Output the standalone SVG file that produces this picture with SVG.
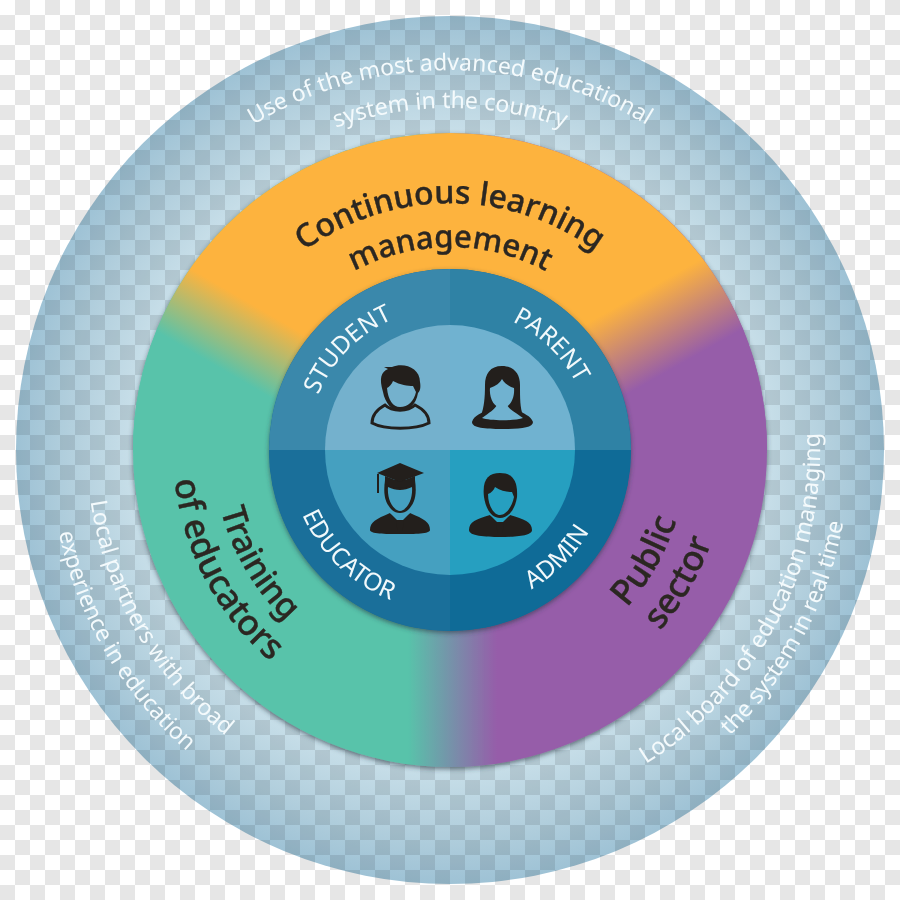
<svg xmlns="http://www.w3.org/2000/svg" xmlns:xlink="http://www.w3.org/1999/xlink" width="900" height="900" viewBox="0 0 900 900">
<defs>
<style>
text{font-family:"Noto Sans","Liberation Sans",sans-serif;text-anchor:middle}
.lt{fill:#f4fafc;font-size:23px}
.tt{fill:#2b2722;font-weight:500;font-size:35px;stroke:#2b2722;stroke-width:.4}
.in{fill:#f2f9fb;font-size:24.5px}
.ink{fill:#231f1c}
</style>
<pattern id="chk" width="30" height="30" patternUnits="userSpaceOnUse">
<rect width="30" height="30" fill="#fff"/>
<rect x="15" width="15" height="15" fill="#e6e6e6"/>
<rect y="15" width="15" height="15" fill="#e6e6e6"/>
</pattern>
<radialGradient id="ring" gradientUnits="userSpaceOnUse" cx="450" cy="450" r="434">
<stop offset="0.73" stop-color="#c8dfe9"/>
<stop offset="0.88" stop-color="#b2cfdd"/>
<stop offset="1" stop-color="#9ec2d5"/>
</radialGradient>
<linearGradient id="tp" gradientUnits="userSpaceOnUse" x1="408" y1="0" x2="497" y2="0">
<stop offset="0" stop-color="#58c3aa"/><stop offset="1" stop-color="#965da9"/>
</linearGradient>
<linearGradient id="ol" gradientUnits="userSpaceOnUse" x1="245" y1="300" x2="209" y2="362">
<stop offset="0" stop-color="#fdb33e"/><stop offset="1" stop-color="#58c3aa"/>
</linearGradient>
<linearGradient id="or" gradientUnits="userSpaceOnUse" x1="655" y1="285" x2="695" y2="356">
<stop offset="0" stop-color="#fdb33e"/><stop offset="1" stop-color="#965da9"/>
</linearGradient>
<clipPath id="cl"><rect x="0" y="0" width="450" height="450"/></clipPath>
<clipPath id="cr"><rect x="450" y="0" width="450" height="450"/></clipPath>
<filter id="sh" x="-10%" y="-10%" width="120%" height="120%"><feDropShadow dx="0" dy="2" stdDeviation="2.5" flood-color="#2a3a44" flood-opacity="0.65"/></filter>
<path id="t143" d="M309.2 425.2A143 143 0 0 1 590.8 425.2"/>
<path id="t203" d="M250.1 414.8A203 203 0 0 1 649.9 414.8"/>
<path id="t247" d="M206.8 407.1A247 247 0 0 1 693.2 407.1"/>
<path id="t342" d="M113.2 390.6A342 342 0 0 1 786.8 390.6"/>
<path id="t380" d="M75.8 384A380 380 0 0 1 824.2 384"/>
<path id="b161" d="M291.4 478A161 161 0 0 0 608.6 478"/>
<path id="b237" d="M216.6 491.1A237 237 0 0 0 683.4 491.1"/>
<path id="b277" d="M177.2 498.1A277 277 0 0 0 722.8 498.1"/>
<path id="b363" d="M92.5 513A363 363 0 0 0 807.5 513"/>
<path id="b370" d="M85.6 514.2A370 370 0 0 0 814.4 514.2"/>
<path id="b400" d="M56.1 519.5A400 400 0 0 0 843.9 519.5"/>
</defs>
<rect id="background" width="900" height="900" fill="url(#chk)"/>
<g id="outer-ring">
<circle cx="450" cy="450" r="434" fill="url(#ring)" style="mix-blend-mode:multiply"/>
<text class="lt"><textPath href="#t380" startOffset="50%">Use of the most advanced educational</textPath></text>
<text class="lt"><textPath href="#t342" startOffset="50%">system in the country</textPath></text>
<text class="lt" transform="rotate(60 450 450)"><textPath href="#b363" startOffset="50%">Local partners with broad</textPath></text>
<text class="lt" transform="rotate(59.6 450 450)"><textPath href="#b400" startOffset="50%">experience in education</textPath></text>
<text class="lt" style="font-size:23.5px" transform="rotate(-62.3 450 450)"><textPath href="#b370" startOffset="50%">Local board of education managing</textPath></text>
<text class="lt" transform="rotate(-62 450 450)"><textPath href="#b400" startOffset="50%">the system in real time</textPath></text>
</g>
<g id="middle-ring">
<g filter="url(#sh)"><circle cx="450" cy="450" r="317" fill="url(#tp)"/></g>
<circle cx="450" cy="450" r="317" fill="url(#ol)" clip-path="url(#cl)"/>
<circle cx="450" cy="450" r="317" fill="url(#or)" clip-path="url(#cr)"/>
<text class="tt" style="font-size:32px"><textPath href="#t247" startOffset="50%">Continuous learning</textPath></text>
<text class="tt" style="font-size:31px"><textPath href="#t203" startOffset="50%">management</textPath></text>
<text class="tt" style="font-size:33.5px" transform="rotate(59.5 450 450)"><textPath href="#b237" startOffset="50%">Training</textPath></text>
<text class="tt" transform="rotate(62 450 450)"><textPath href="#b277" startOffset="50%">of educators</textPath></text>
<text class="tt" transform="rotate(-60.5 450 450)"><textPath href="#b237" startOffset="50%">Public</textPath></text>
<text class="tt" transform="rotate(-60 450 450)"><textPath href="#b277" startOffset="50%">sector</textPath></text>
</g>
<g id="hub">
<circle cx="450" cy="450" r="181" fill="#0f6b97" filter="url(#sh)"/>
<path d="M450 450H269A181 181 0 0 1 450 269Z" fill="#3a88ab"/>
<path d="M450 450V269A181 181 0 0 1 631 450Z" fill="#2f82a5"/>
<path d="M450 450V631A181 181 0 0 1 269 450Z" fill="#1a6f9a"/>
<path d="M450 450H631A181 181 0 0 1 450 631Z" fill="#0f6b97"/>
</g>
<g id="student">
<path d="M450 450H325A125 125 0 0 1 450 325Z" fill="#74b1cd"/>
<path d="M385 405C376 410 372 416 372 423C385 430 415 430 429 423C429 416 425 410 415 405C408 412 392 412 385 405Z" fill="#74b1cd" stroke="#231f1c" stroke-width="3"/>
<path class="ink" d="M383 392C379 378 381 372 388 369L384 367L392 367C404 362 420 368 420 382C421 388 420 391 418 393C416 405 408 411 400 411C392 411 385 403 383 392Z"/>
<path d="M387 388C389 387 392 384 393 381C400 385 408 386 413 386L416 392C414 401 408 407 400 407C393 407 388 400 387 388Z" fill="#74b1cd"/>
<text class="in" transform="rotate(-45.5 450 450)"><textPath href="#t143" startOffset="50%">STUDENT</textPath></text>
</g>
<g id="parent">
<path d="M450 450V325A125 125 0 0 1 575 450Z" fill="#70b2d0"/>
<path class="ink" d="M502 366C490 366 485 374 485 385C485 398 484 408 481 415L523 415C520 408 520 398 520 385C520 374 514 366 502 366Z"/>
<path class="ink" d="M472 422C474 415 482 413 488 410C495 416 510 416 517 410C523 413 531 416 533 422C533 428 520 429 502 429C485 429 472 428 472 422Z"/>
<path d="M482 418C490 412 494 410 497 405L507 405C510 410 515 412 523 418C515 421 490 421 482 418Z" fill="#70b2d0"/>
<path d="M490 388C496 386 500 383 502 379C505 384 510 387 514 388C515 398 510 408 502 408C494 408 489 398 490 388Z" fill="#70b2d0"/>
<text class="in" transform="rotate(44 450 450)"><textPath href="#t143" startOffset="50%">PARENT</textPath></text>
</g>
<g id="educator">
<path d="M450 450V575A125 125 0 0 1 325 450Z" fill="#45a0c0"/>
<path class="ink" d="M370 530C370 522 376 519 390 513L400 520L410 513C424 519 430 522 430 530C430 534 415 534 400 534C385 534 370 534 370 530Z"/>
<path d="M390 513L398 521L402 521L410 513L406 508H394Z" fill="#45a0c0"/>
<path class="ink" d="M397 520H403L404 524L402 531H398L396 524Z"/>
<path class="ink" d="M385 480C383 495 385 503 392 510C396 514 404 514 408 510C415 503 417 495 415 480Z"/>
<path d="M388 487C396 491 404 491 412 487C413 498 408 510 400 511C392 510 387 498 388 487Z" fill="#45a0c0"/>
<path class="ink" d="M400 463L424 473L400 482L377 473Z"/>
<path class="ink" d="M385 476L400 482L415 476V484C405 489 395 489 385 484Z"/>
<path d="M378 474V493" stroke="#231f1c" stroke-width="2" fill="none"/>
<text class="in" transform="rotate(44 450 450)"><textPath href="#b161" startOffset="50%">EDUCATOR</textPath></text>
</g>
<g id="admin">
<path d="M450 450H575A125 125 0 0 1 450 575Z" fill="#269fc0"/>
<path class="ink" d="M469 530C469 522 476 519 490 515L500 522L510 515C524 519 532 522 532 530C532 536 515 537 500 537C485 537 469 536 469 530Z"/>
<path d="M490 515L498 523L502 523L510 515L506 510H494Z" fill="#269fc0"/>
<path class="ink" d="M497 522H503L504 526L502 533H498L496 526Z"/>
<path class="ink" d="M484 497C482 480 488 473 500 473C512 473 518 480 517 497C515 510 508 518 500 518C492 518 486 510 484 497Z"/>
<path d="M488 494C491 493 494 490 495 487C501 491 507 492 512 492L514 497C512 507 506 515 500 515C494 515 488 506 488 494Z" fill="#269fc0"/>
<text class="in" transform="rotate(-45 450 450)"><textPath href="#b161" startOffset="50%">ADMIN</textPath></text>
</g>
</svg>
